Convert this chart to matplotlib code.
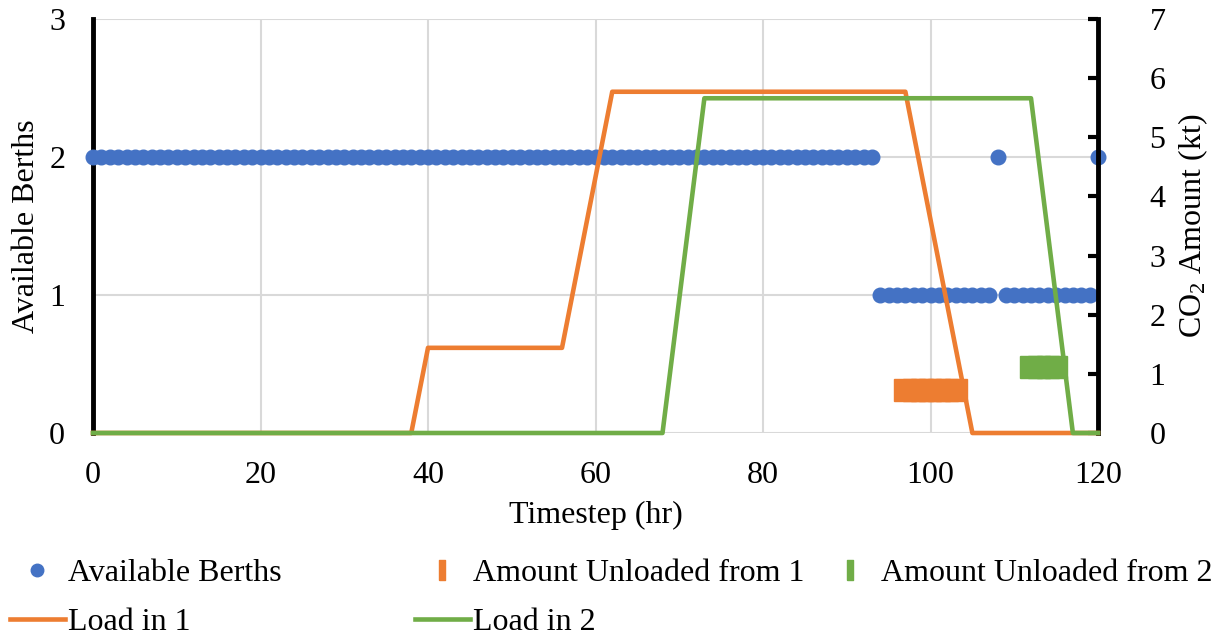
import numpy as np
import matplotlib; matplotlib.use("Agg")
import matplotlib.pyplot as plt
from matplotlib.lines import Line2D

plt.rcParams['font.family'] = ['Liberation Serif', 'DejaVu Serif']
plt.rcParams['mathtext.fontset'] = 'custom'
plt.rcParams['mathtext.rm'] = 'Liberation Serif'
plt.rcParams['mathtext.it'] = 'Liberation Serif:italic'

BLUE = "#4472C4"; ORANGE = "#ED7D31"; GREEN = "#70AD47"; GRID = "#D9D9D9"
FS = 23

# berths available at every hourly timestep
t = np.arange(0, 121)
berths = np.array([2]*94 + [1]*14 + [2] + [1]*11 + [2])

# CO2 held in each ship (kt), piecewise linear between these knots
load1_t = [0, 38, 40, 56, 62, 97, 105, 120]
load1_v = [0, 0, 1.44, 1.44, 5.77, 5.77, 0, 0]
load2_t = [0, 68, 73, 112, 117, 120]
load2_v = [0, 0, 5.66, 5.66, 0, 0]

# unloading per timestep (kt)
unload1_t = [97, 98, 99, 100, 101, 102, 103]
unload1_v = [0.72]*7
unload2_t = [112, 113, 114, 115]
unload2_v = [1.12]*4

fig = plt.figure(figsize=(12.27, 6.38), dpi=100)
ax = fig.add_axes([93/1227, 1-433/638, (1098-93)/1227, (433-19)/638])
ax2 = ax.twinx()

ax.plot(t, berths, 'o', color=BLUE, ms=10.5, mec=BLUE, zorder=3, clip_on=False)
ax.set_xlim(0, 120); ax.set_ylim(0, 3)
ax.set_xticks(range(0, 121, 20)); ax.set_yticks([0, 1, 2, 3])
ax.grid(True, color=GRID, lw=1.5); ax.set_axisbelow(True)
for s in ["top", "right", "bottom"]:
    ax.spines[s].set_visible(False)
ax.spines["left"].set_linewidth(3.5); ax.spines["left"].set_color("black")
ax.tick_params(axis='y', length=0, pad=20, labelsize=FS)
ax.tick_params(axis='x', length=0, pad=20, labelsize=FS)
ax.set_xlabel("Timestep (hr)", fontsize=FS, labelpad=8)
ax.set_ylabel("Available Berths", fontsize=FS, labelpad=6)

ax2.plot(unload1_t, unload1_v, 's', color=ORANGE, ms=16, zorder=2)
ax2.plot(unload2_t, unload2_v, 's', color=GREEN, ms=16, zorder=2)
ax2.plot(load1_t, load1_v, '-', color=ORANGE, lw=3.3, zorder=3, clip_on=False)
ax2.plot(load2_t, load2_v, '-', color=GREEN, lw=3.3, zorder=4, clip_on=False)
ax2.set_ylim(0, 7); ax2.set_yticks(range(0, 8))
for s in ["top", "left", "bottom"]:
    ax2.spines[s].set_visible(False)
ax2.spines["right"].set_linewidth(3.5); ax2.spines["right"].set_color("black")
ax2.tick_params(axis='y', direction='in', length=7, width=3, pad=37, labelsize=FS)
ax2.set_ylabel("CO$_2$ Amount (kt)", fontsize=FS, labelpad=8)

# legend laid out as three fixed-width columns
rect = [(-0.28, -1), (0.28, -1), (0.28, 1), (-0.28, 1), (-0.28, -1)]
h_ab = Line2D([], [], ls='none', marker='o', ms=9, color=BLUE)
h_u1 = Line2D([], [], ls='none', marker=rect, ms=14, color=ORANGE)
h_u2 = Line2D([], [], ls='none', marker=rect, ms=14, color=GREEN)
h_l1 = Line2D([], [], color=ORANGE, lw=3.3)
h_l2 = Line2D([], [], color=GREEN, lw=3.3)
cols = [([h_ab, h_l1], ["Available Berths", "Load in 1"], 10),
        ([h_u1, h_l2], ["Amount Unloaded from 1", "Load in 2"], 415),
        ([h_u2], ["Amount Unloaded from 2"], 823)]
for hs, ls, x in cols:
    fig.legend(hs, ls, loc="upper left", bbox_to_anchor=(x/1227, 1-559/638),
               frameon=False, fontsize=FS, handlelength=1.72, handletextpad=0.1,
               borderpad=0, borderaxespad=0, labelspacing=0.6)

fig.savefig("out.png", dpi=100)
